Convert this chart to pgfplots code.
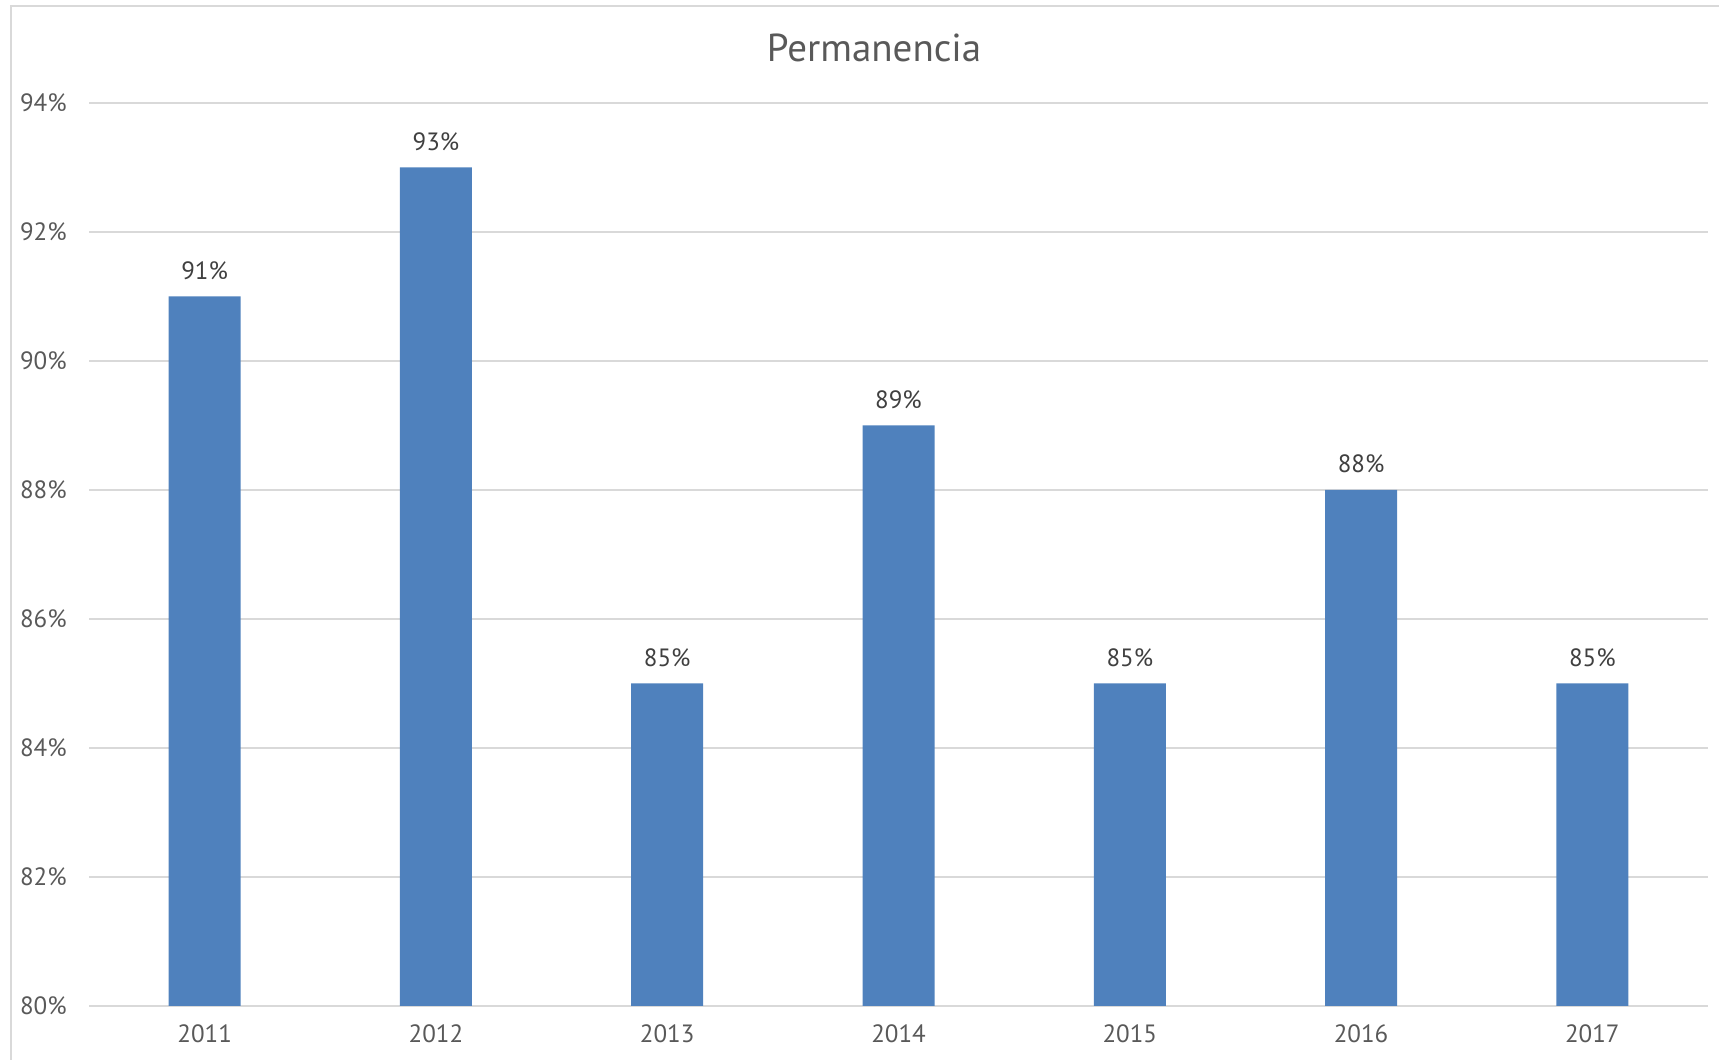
\documentclass[border=0pt]{standalone}
\usepackage{pgfplots}
\pgfplotsset{compat=1.18}
\usepackage{fontspec}
\setmainfont{PT Sans}
\definecolor{txt}{HTML}{595959}
\definecolor{lbl}{HTML}{404040}
\definecolor{barc}{HTML}{4F81BD}
\definecolor{gridc}{HTML}{D9D9D9}
\begin{document}
\begin{tikzpicture}
\useasboundingbox (0,0) rectangle (859.5pt,530pt);
\draw[gridc, line width=1pt] (5.5pt,0) -- (5.5pt,527pt) -- (859.5pt,527pt);
\node[anchor=base, text=txt, font=\fontsize{19.5}{23}\selectfont] at (437pt,499pt) {Permanencia};
\begin{axis}[
  at={(44.5pt,27pt)}, anchor=south west,
  width=809.5pt, height=451.5pt, scale only axis,
  xmin=-0.5, xmax=6.5, ymin=80, ymax=94,
  axis line style={draw=none},
  ytick={80,82,...,94},
  yticklabel={\pgfmathprintnumber{\tick}\%},
  xtick={0,...,6},
  xticklabels={2011,2012,2013,2014,2015,2016,2017},
  major tick length=0pt,
  ymajorgrids, xmajorgrids=false,
  major grid style={draw=gridc, line width=1pt},
  /pgf/number format/assume math mode=true,
  tick label style={text=txt, font=\fontsize{12.5}{15}\selectfont},
  yticklabel style={inner sep=0pt, anchor=east, xshift=-11pt},
  xticklabel style={inner sep=0pt, anchor=north, yshift=-9pt},
  nodes near coords={\pgfmathprintnumber[fixed,precision=0]{\pgfplotspointmeta}\%},
  nodes near coords style={text=lbl, font=\fontsize{12.5}{15}\selectfont, anchor=base, inner sep=0pt, yshift=8.5pt},
  clip=false,
]
\addplot[ybar, bar width=36pt, fill=barc, draw=none, bar shift=0pt] coordinates {
  (0,91) (1,93) (2,85) (3,89) (4,85) (5,88) (6,85)
};
\end{axis}
\end{tikzpicture}
\end{document}
